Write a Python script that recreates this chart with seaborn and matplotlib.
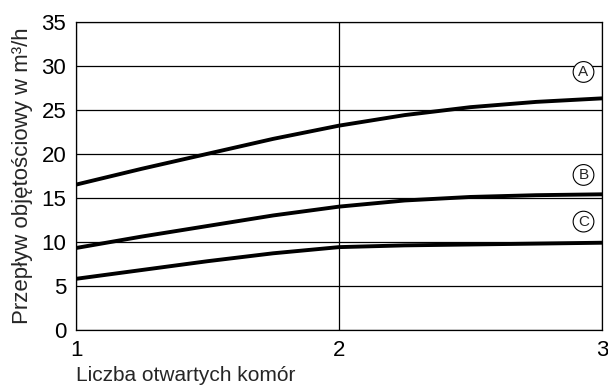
import seaborn as sns
import matplotlib.pyplot as plt
import pandas as pd

# values
chambers = [1, 1.25, 1.5, 1.75, 2, 2.25, 2.5, 2.75, 3]
flow_a = [16.5, 18.3, 20.0, 21.7, 23.2, 24.4, 25.3, 25.9, 26.3]
flow_b = [9.3, 10.6, 11.8, 13.0, 14.0, 14.7, 15.1, 15.3, 15.4]
flow_c = [5.8, 6.8, 7.8, 8.7, 9.4, 9.6, 9.7, 9.8, 9.9]
curve_labels = ["A", "B", "C"]
label_y = [29.3, 17.6, 12.3]

df = pd.DataFrame({
    "chambers": chambers * 3,
    "flow": flow_a + flow_b + flow_c,
    "curve": [c for c in curve_labels for _ in chambers],
})

sns.set_style("white")
plt.rcParams["font.family"] = ["Liberation Sans", "DejaVu Sans"]

fig, ax = plt.subplots(figsize=(6.08, 3.89), dpi=100)
fig.subplots_adjust(left=0.125, right=0.99, top=0.944, bottom=0.152)

sns.lineplot(data=df, x="chambers", y="flow", hue="curve", units="curve",
             estimator=None, palette=["black"] * 3, linewidth=2.8,
             legend=False, ax=ax)

ax.set_xlim(1, 3)
ax.set_ylim(0, 35)
ax.set_xticks([1, 2, 3])
ax.set_yticks(range(0, 36, 5))
ax.grid(True, color="black", linewidth=0.9)
for s in ax.spines.values():
    s.set_color("black")
    s.set_linewidth(0.9)
ax.tick_params(labelsize=16, length=0, pad=7, colors="black")

for lab, y in zip(curve_labels, label_y):
    ax.text(2.93, y, lab, ha="center", va="center", fontsize=11,
            bbox=dict(boxstyle="circle,pad=0.22", fc="white", ec="black", lw=0.8))

ax.set_xlabel("Liczba otwartych komór", fontsize=15, loc="left", labelpad=4)
ax.set_ylabel("Przepływ objętościowy w m³/h", fontsize=16, labelpad=6)

plt.savefig("out.png")
